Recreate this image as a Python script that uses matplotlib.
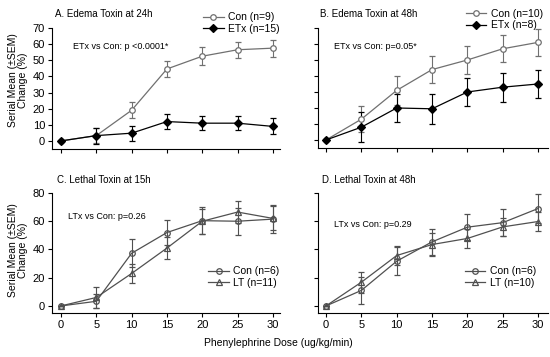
import numpy as np
import matplotlib.pyplot as plt

plt.rcParams['font.family'] = ['Liberation Sans', 'DejaVu Sans']

dose = [0, 5, 10, 15, 20, 25, 30]

# A. Edema toxin 24h
a_con = [0, 3.3, 19, 44.6, 52.5, 56.5, 57.5]
a_con_err = [0, 4.5, 5, 5, 5.5, 5, 5.3]
a_etx = [0, 3.3, 4.8, 12, 11, 11, 9]
a_etx_err = [0, 5, 4.6, 4.5, 4.4, 4.5, 5]

# B. Edema toxin 48h
b_con = [0, 13, 31, 44, 50, 57, 61]
b_con_err = [0, 8.3, 9, 8.5, 8.5, 8.5, 8.5]
b_etx = [0, 8, 20, 19.5, 30, 33, 35]
b_etx_err = [0, 9.5, 9, 9.5, 9, 9, 9]

# C. Lethal toxin 15h
c_con = [0, 3.3, 37.3, 52, 60.4, 60, 61.5]
c_con_err = [0, 5, 10, 9, 9.5, 9.5, 10]
c_lt = [0, 6, 23, 41, 60, 66.5, 62]
c_lt_err = [0, 7.5, 7, 8, 9, 7.5, 8.5]

# D. Lethal toxin 48h
d_con = [0, 11, 31.7, 45.4, 55.8, 59, 69]
d_con_err = [0, 9.6, 10, 9, 9, 9.5, 10]
d_lt = [0, 16.8, 35.7, 43.5, 47.8, 56, 59.8]
d_lt_err = [0, 7.5, 7, 8, 7, 6.5, 7]

W, H = 550, 357
fig = plt.figure(figsize=(W / 100, H / 100), dpi=100)


def make_ax(left, right, top, bottom):
    return fig.add_axes([left / W, (H - bottom) / H, (right - left) / W, (bottom - top) / H])


def style(ax, ylim, yticks, show_y, show_x):
    ax.set_xlim(-1.27, 31)
    ax.set_ylim(*ylim)
    ax.set_yticks(yticks)
    ax.set_xticks(dose)
    for s in ['top', 'right']:
        ax.spines[s].set_visible(False)
    for s in ['left', 'bottom']:
        ax.spines[s].set_linewidth(0.8)
    ax.spines['left'].set_bounds(ylim[0], yticks[-1])
    ax.tick_params(direction='out', length=3, width=0.8, labelsize=8, pad=2)
    if not show_y:
        ax.set_yticklabels([])
    if not show_x:
        ax.set_xticklabels([])


def series(ax, y, err, marker, mfc, color, label, ms=4):
    c = ax.errorbar(dose, y, yerr=err, marker=marker, mfc=mfc, mec=color, color=color,
                    ecolor=color, lw=0.9, elinewidth=0.8, capsize=2.5, capthick=0.8,
                    ms=ms, mew=0.9)
    return c[0], label


def legend(ax, items, **kw):
    ax.legend([i[0] for i in items], [i[1] for i in items], frameon=False, fontsize=7.5,
              handlelength=2, handletextpad=0.4, labelspacing=0.15, borderpad=0, **kw)


# Panel A
axA = make_ax(52, 280, 27, 149)
s1 = series(axA, a_con, a_con_err, 'o', 'white', '#707070', 'Con (n=9)')
s2 = series(axA, a_etx, a_etx_err, 'D', 'black', 'black', 'ETx (n=15)')
style(axA, (-5, 70.6), [0, 10, 20, 30, 40, 50, 60, 70], True, False)
axA.text(0.09, 0.82, 'ETx vs Con: p <0.0001*', transform=axA.transAxes, fontsize=6.5)
legend(axA, [s1, s2], loc='lower right', bbox_to_anchor=(1.02, 0.9))

# Panel B
axB = make_ax(318, 548, 27, 148)
s1 = series(axB, b_con, b_con_err, 'o', 'white', '#707070', 'Con (n=10)')
s2 = series(axB, b_etx, b_etx_err, 'D', 'black', 'black', 'ETx (n=8)')
style(axB, (-5, 70.6), [0, 10, 20, 30, 40, 50, 60, 70], False, False)
axB.set_xlim(-1.13, 31.4)
axB.text(0.07, 0.82, 'ETx vs Con: p=0.05*', transform=axB.transAxes, fontsize=6.5)
legend(axB, [s1, s2], loc='lower right', bbox_to_anchor=(1.0, 0.93))

# Panel C
axC = make_ax(52, 280, 193, 313)
s1 = series(axC, c_con, c_con_err, 'o', 'none', '#505050', 'Con (n=6)')
s2 = series(axC, c_lt, c_lt_err, '^', 'none', '#505050', 'LT (n=11)')
style(axC, (-5, 80), [0, 20, 40, 60, 80], True, True)
axC.text(0.07, 0.78, 'LTx vs Con: p=0.26', transform=axC.transAxes, fontsize=6.5)
legend(axC, [s1, s2], loc='center right', bbox_to_anchor=(1.02, 0.3))

# Panel D
axD = make_ax(318, 548, 193, 313)
s1 = series(axD, d_con, d_con_err, 'o', 'none', '#505050', 'Con (n=6)')
s2 = series(axD, d_lt, d_lt_err, '^', 'none', '#505050', 'LT (n=10)')
style(axD, (-5, 80), [0, 20, 40, 60, 80], False, True)
axD.set_xlim(-1.13, 31.4)
axD.text(0.07, 0.72, 'LTx vs Con: p=0.29', transform=axD.transAxes, fontsize=6.5)
legend(axD, [s1, s2], loc='center right', bbox_to_anchor=(0.97, 0.3))

# titles
fig.text(55 / W, 1 - 14 / H, 'A. Edema Toxin at 24h', fontsize=7, va='center')
fig.text(320 / W, 1 - 14 / H, 'B. Edema Toxin at 48h', fontsize=7, va='center')
fig.text(57 / W, 1 - 180 / H, 'C. Lethal Toxin at 15h', fontsize=7, va='center')
fig.text(322 / W, 1 - 180 / H, 'D. Lethal Toxin at 48h', fontsize=7, va='center')

# y labels and x label
for yc in (80, 250):
    fig.text(18 / W, 1 - yc / H, 'Serial Mean (\u00b1SEM)\nChange (%)', fontsize=7.5,
             rotation=90, ha='center', va='center', multialignment='center', linespacing=1.1)
fig.text(278 / W, 1 - 343 / H, 'Phenylephrine Dose (ug/kg/min)', fontsize=7.5,
         ha='center', va='center')

fig.savefig('out.png', dpi=100)
